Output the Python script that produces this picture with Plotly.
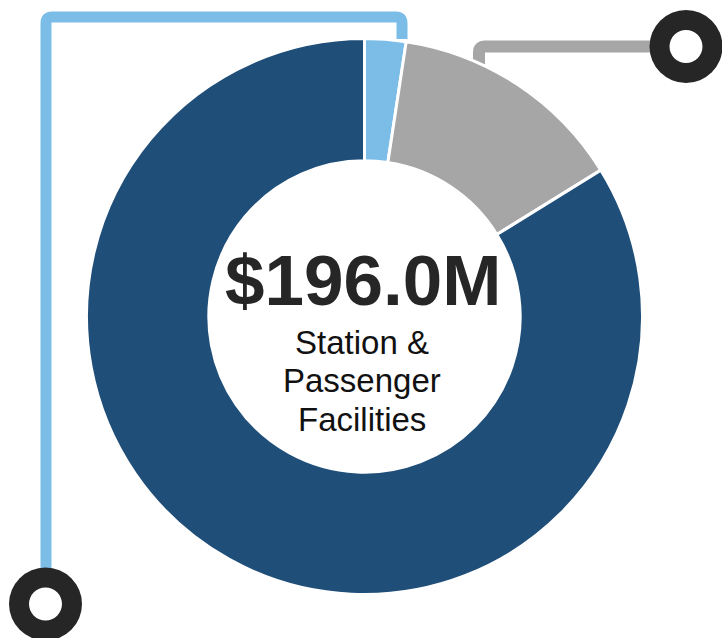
import plotly.graph_objects as go

# Funding split for Station & Passenger Facilities ($M)
segments = ["Segment 1", "Segment 2", "Segment 3"]
amounts = [4.7, 27.0, 164.3]
colors = ["#7CBDE8", "#A6A6A6", "#1F4E79"]
title_lines = ["Station &", "Passenger", "Facilities"]

W, H = 722, 638


def px_x(v):
    return v / W


def px_y(v):
    return 1 - v / H


# donut placement (pixels); domain padded slightly for the slice outline
cx, cy, r = 364.5, 316.5, 278

fig = go.Figure(
    go.Pie(
        labels=segments,
        values=amounts,
        sort=False,
        direction="clockwise",
        rotation=0,
        hole=0.56,
        marker=dict(colors=colors, line=dict(color="white", width=3)),
        textinfo="none",
        hoverinfo="label+value",
        showlegend=False,
        domain=dict(x=[px_x(cx - r), px_x(cx + r)], y=[px_y(cy + r), px_y(cy - r)]),
    )
)

shapes = []
# light blue connector: left post up, across the top, down to the donut
shapes.append(dict(
    type="path", xref="paper", yref="paper", layer="below",
    path=(f"M {px_x(46)},{px_y(568)} L {px_x(46)},{px_y(23)} "
          f"Q {px_x(46)},{px_y(17)} {px_x(52)},{px_y(17)} "
          f"L {px_x(396)},{px_y(17)} "
          f"Q {px_x(402)},{px_y(17)} {px_x(402)},{px_y(23)} "
          f"L {px_x(402)},{px_y(39)}"),
    line=dict(color=colors[0], width=11),
))
# grey connector: short stub from the donut out to the right
shapes.append(dict(
    type="path", xref="paper", yref="paper", layer="below",
    path=(f"M {px_x(479)},{px_y(64)} L {px_x(479)},{px_y(52)} "
          f"Q {px_x(479)},{px_y(46.5)} {px_x(485)},{px_y(46.5)} "
          f"L {px_x(670)},{px_y(46.5)}"),
    line=dict(color=colors[1], width=12),
))

# end rings
for (ex, ey) in [(686, 46.5), (45.5, 604)]:
    for rad, fill in [(36.5, "#262626"), (16.5, "white")]:
        shapes.append(dict(
            type="circle", xref="paper", yref="paper", layer="above",
            x0=px_x(ex - rad), x1=px_x(ex + rad),
            y0=px_y(ey + rad), y1=px_y(ey - rad),
            fillcolor=fill, line=dict(width=0),
        ))

annotations = [dict(
    text=f"<b>${sum(amounts):.1f}M</b>",
    x=px_x(363), y=px_y(280.5), xref="paper", yref="paper",
    xanchor="center", yanchor="middle", showarrow=False,
    font=dict(family="Liberation Sans, Arial, sans-serif", size=71, color="#262626"),
)]
for i, line in enumerate(title_lines):
    annotations.append(dict(
        text=line,
        x=px_x(362), y=px_y(342 + 38.5 * i), xref="paper", yref="paper",
        xanchor="center", yanchor="middle", showarrow=False,
        font=dict(family="Liberation Sans, Arial, sans-serif", size=33, color="#111111"),
    ))

fig.update_layout(
    width=W, height=H,
    margin=dict(l=0, r=0, t=0, b=0),
    paper_bgcolor="white",
    plot_bgcolor="white",
    shapes=shapes,
    annotations=annotations,
)

fig.write_html("out.html")
